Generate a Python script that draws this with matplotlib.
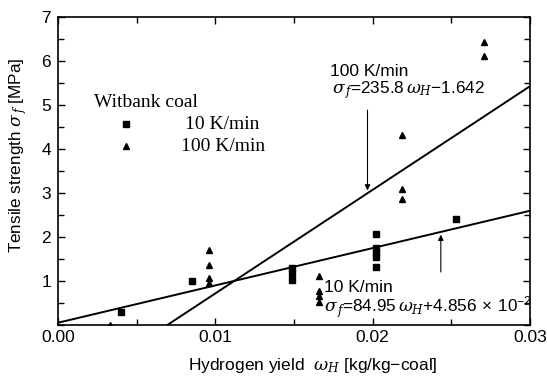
import numpy as np
import matplotlib.pyplot as plt
from matplotlib.ticker import MultipleLocator

# Witbank coal, 10 K/min (squares)
w10 = [0.0040, 0.0085, 0.0149, 0.0149, 0.0149,
       0.0202, 0.0202, 0.0202, 0.0202, 0.0202, 0.0253]
s10 = [0.30, 1.00, 1.30, 1.18, 1.03,
       2.06, 1.75, 1.63, 1.55, 1.31, 2.42]

# Witbank coal, 100 K/min (triangles)
w100 = [0.0033, 0.0096, 0.0096, 0.0096, 0.0096,
        0.0166, 0.0166, 0.0166, 0.0166,
        0.02185, 0.02185, 0.02185, 0.0271, 0.0271]
s100 = [0.0, 1.70, 1.37, 1.07, 0.95,
        1.12, 0.78, 0.65, 0.52,
        4.32, 3.09, 2.86, 6.43, 6.13]

# regression lines
a10, b10 = 84.95, 4.856e-2
a100, b100 = 235.8, -1.642

plt.rcParams['font.family'] = ['Liberation Sans', 'DejaVu Sans']
plt.rcParams['mathtext.fontset'] = 'custom'
plt.rcParams['mathtext.it'] = 'DejaVu Serif:italic'
plt.rcParams['mathtext.rm'] = 'Liberation Sans'

fig = plt.figure(figsize=(5.47, 3.76), dpi=100)
ax = fig.add_axes([0.106, 0.136, 0.863, 0.818])

ax.plot(w10, s10, 's', color='black', markersize=4.5)
ax.plot(w100, s100, '^', color='black', markersize=5)

x = np.linspace(0, 0.03, 200)
ax.plot(x, a10 * x + b10, color='black', lw=1.4)
ax.plot(x, a100 * x + b100, color='black', lw=1.4)

# annotations
ax.annotate('', xy=(0.01967, a100 * 0.01967 + b100), xytext=(0.01967, 4.95),
            arrowprops=dict(arrowstyle='-|>', color='black', lw=0.8,
                            mutation_scale=8))
ax.text(0.0173, 5.77, '100 K/min', fontsize=12.5, va='center')
ax.text(0.0174, 5.34, r'$\sigma_{\,f}$=235.8$\,\omega_H$$-$1.642', fontsize=12.3, va='center')

ax.annotate('', xy=(0.02433, a10 * 0.02433 + b10), xytext=(0.02433, 1.14),
            arrowprops=dict(arrowstyle='-|>', color='black', lw=0.8,
                            mutation_scale=8))
ax.text(0.0169, 0.86, '10 K/min', fontsize=12.5, va='center')
ax.text(0.0169, 0.40, r'$\sigma_{\,f}$=84.95$\,\omega_H$+4.856$\,\times\,$10$^{-2}$',
        fontsize=12.3, va='center')

# legend drawn as text
ax.text(0.0023, 5.05, 'Witbank coal', fontsize=14, va='center',
        family='Liberation Serif')
ax.plot([0.0043], [4.57], 's', color='black', markersize=4.5)
ax.plot([0.0043], [4.07], '^', color='black', markersize=5)
ax.text(0.0081, 4.57, '10 K/min', fontsize=14, va='center',
        family='Liberation Serif')
ax.text(0.0078, 4.07, '100 K/min', fontsize=14, va='center',
        family='Liberation Serif')

ax.set_xlim(0, 0.03)
ax.set_ylim(0, 7)
ax.xaxis.set_major_locator(MultipleLocator(0.01))
ax.xaxis.set_minor_locator(MultipleLocator(0.005))
ax.yaxis.set_major_locator(MultipleLocator(1))
ax.yaxis.set_minor_locator(MultipleLocator(0.5))
ax.set_xticks([0, 0.01, 0.02, 0.03])
ax.set_xticklabels(['0.00', '0.01', '0.02', '0.03'])
ax.set_yticks([1, 2, 3, 4, 5, 6, 7])
ax.tick_params(which='both', direction='in', top=True, right=True,
               labelsize=12.5, width=1)
ax.tick_params(which='major', length=5)
ax.tick_params(which='minor', length=4)
ax.tick_params(axis='y', pad=5)
for sp in ax.spines.values():
    sp.set_linewidth(1.2)

ax.set_xlabel(r'Hydrogen yield  $\omega_H$ [kg/kg$-$coal]', fontsize=12.5)
ax.xaxis.set_label_coords(0.54, -0.1)
ax.set_ylabel(r'Tensile strength $\sigma_{\,f}$ [MPa]', fontsize=12.3)
ax.yaxis.set_label_coords(-0.062, 0.55)

fig.savefig('out.png', dpi=100)
